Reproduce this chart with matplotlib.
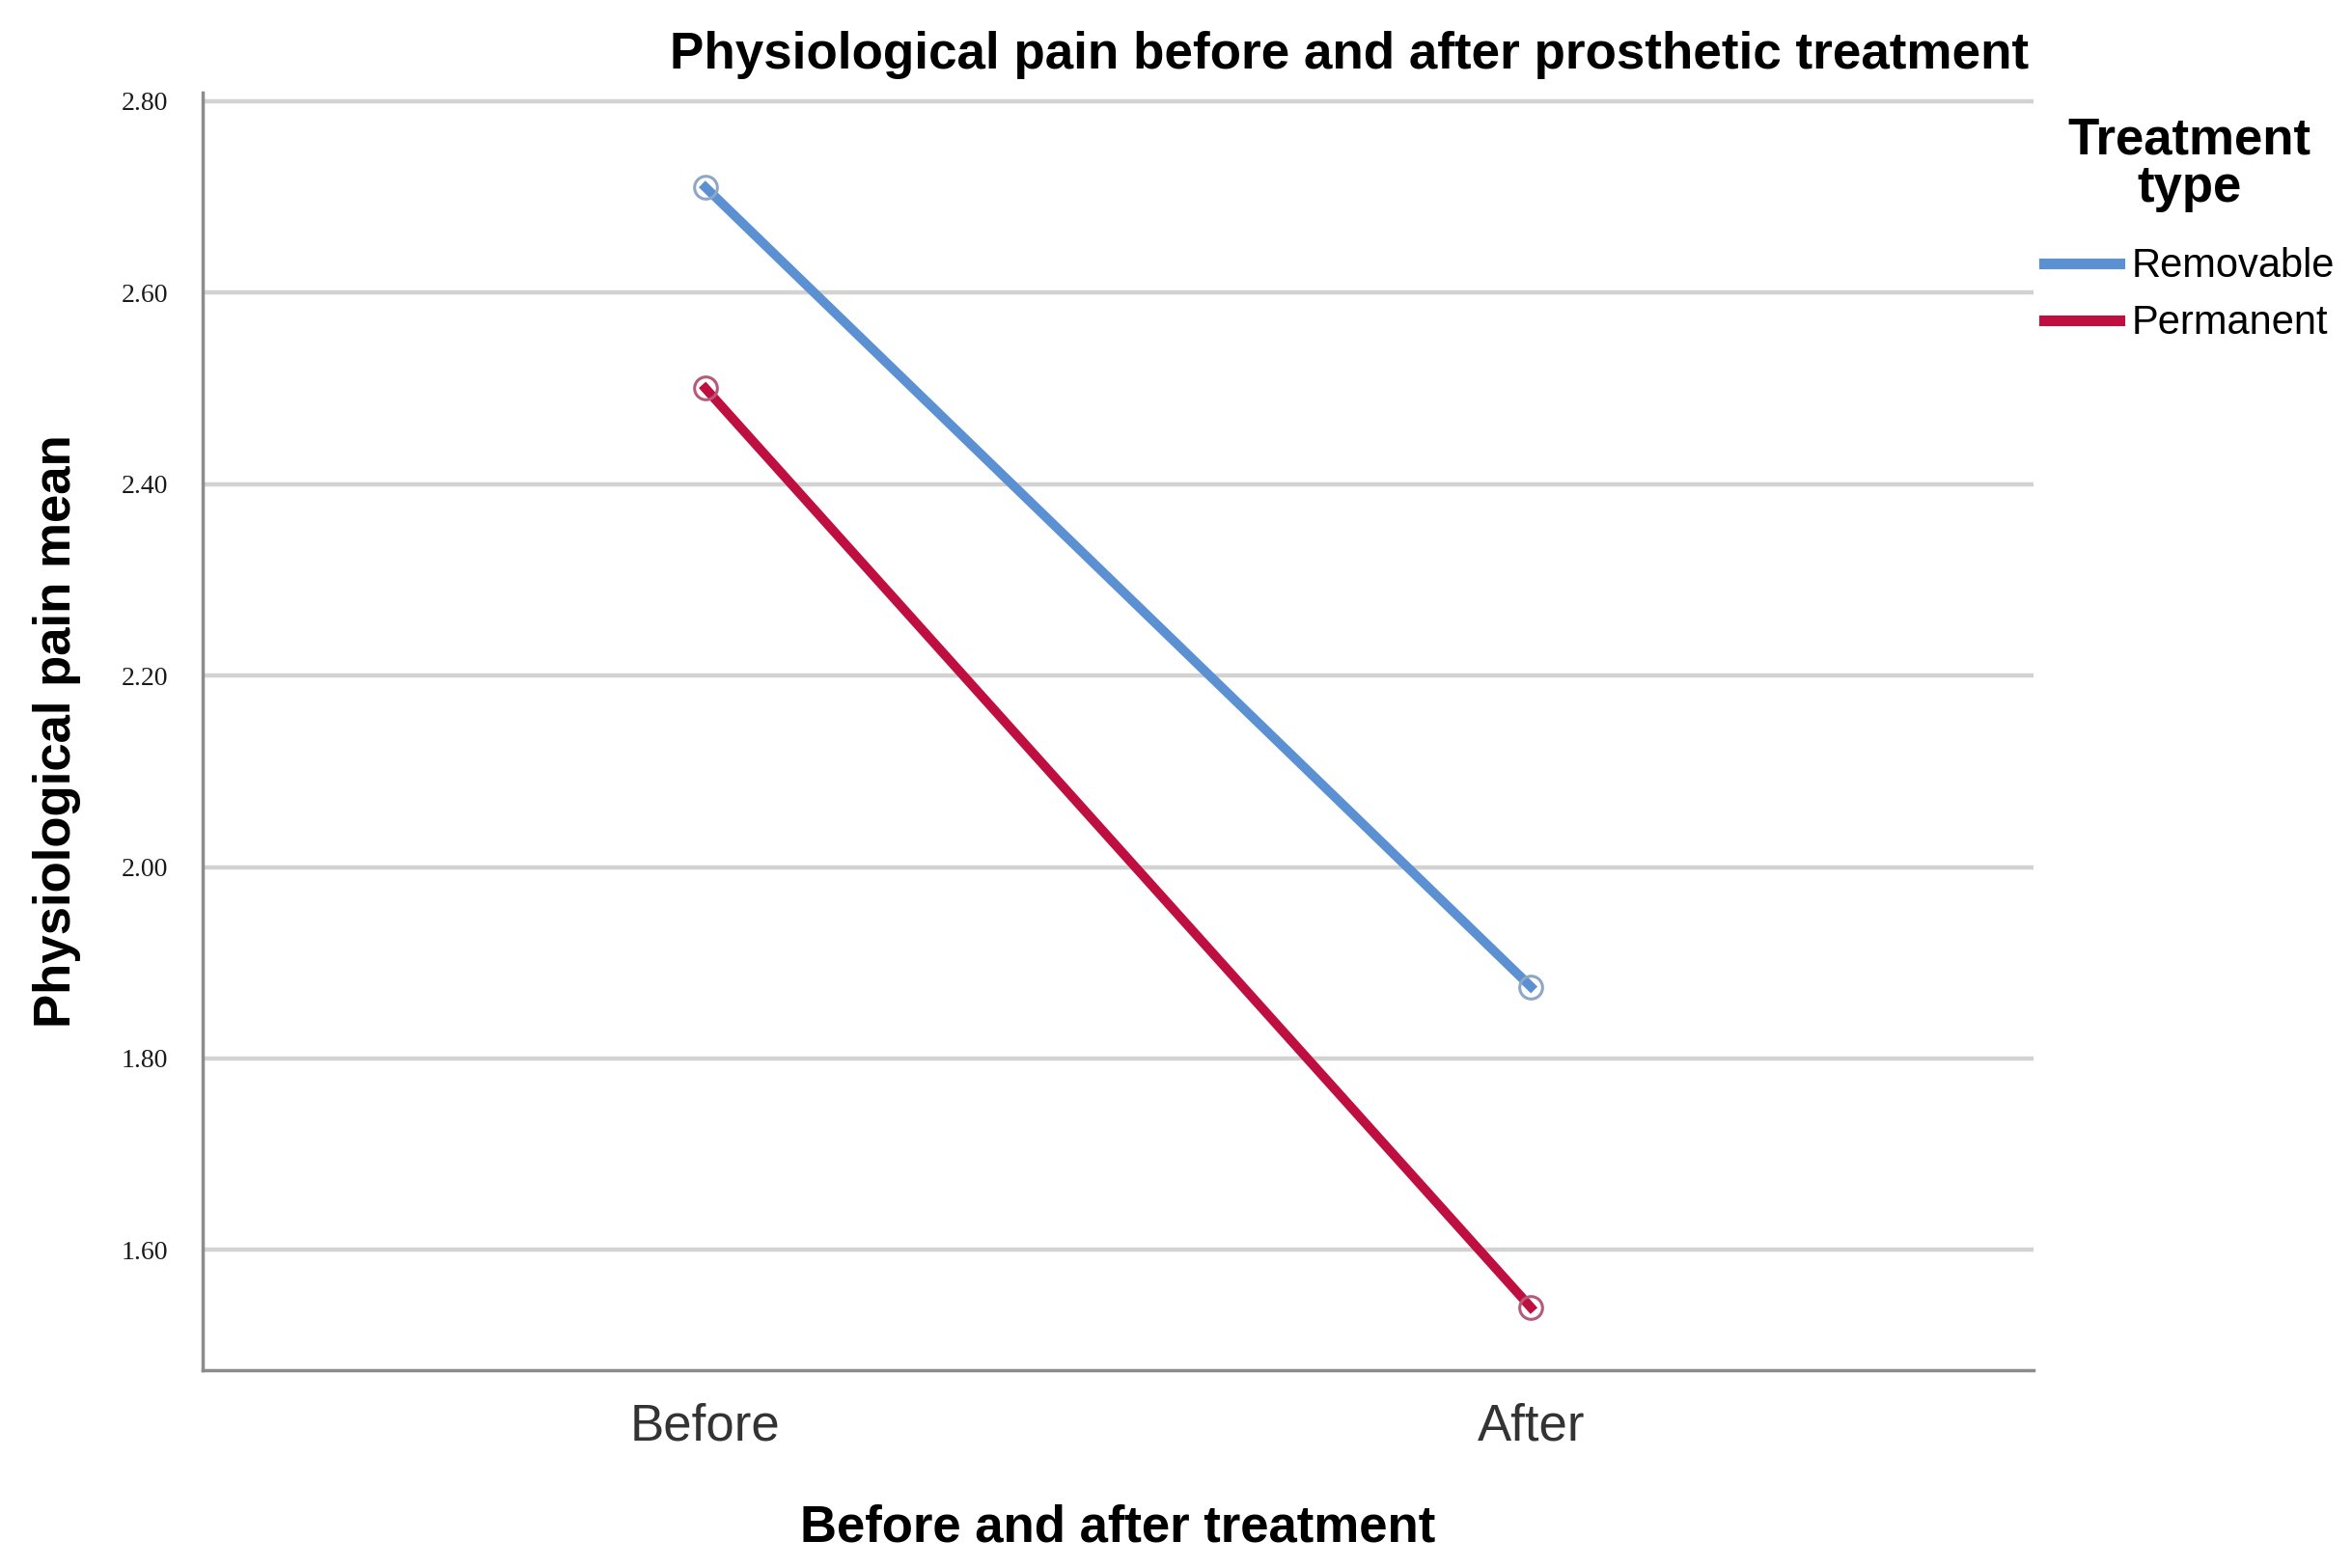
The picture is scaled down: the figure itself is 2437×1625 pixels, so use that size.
import matplotlib
matplotlib.use("Agg")
import matplotlib.pyplot as plt

# data
phases = ["Before", "After"]
removable = [2.71, 1.875]
permanent = [2.50, 1.54]
y_ticks = [1.60, 1.80, 2.00, 2.20, 2.40, 2.60, 2.80]

blue = "#5B90D2"
red = "#BE0F40"

plt.rcParams['font.family'] = ['Liberation Sans', 'DejaVu Sans']

fig = plt.figure(figsize=(24.37, 16.25), dpi=100)
ax = fig.add_axes([0.0862, 0.1262, 0.7784, 0.8148])

x = list(range(len(phases)))

# gridlines behind
for t in y_ticks:
    ax.axhline(t, color='#d2d2d2', linewidth=3.2, zorder=0)

ax.plot(x, removable, color=blue, linewidth=7, marker='o', markersize=17,
        markerfacecolor='none', markeredgecolor='#8fa6c4', markeredgewidth=2.2,
        label='Removable', zorder=3)
ax.plot(x, permanent, color=red, linewidth=7, marker='o', markersize=17,
        markerfacecolor='none', markeredgecolor='#b55a78', markeredgewidth=2.2,
        label='Permanent', zorder=3)

ax.set_xlim(-0.609, 1.609)
ax.set_ylim(1.4745, 2.809)

ax.set_xticks(x)
ax.set_xticklabels(phases, fontsize=38, color='#333333')
ax.set_yticks(y_ticks)
ax.set_yticklabels(["%.2f" % t for t in y_ticks], fontsize=20,
                   family=['Liberation Serif', 'DejaVu Serif'], color='#1a1a1a')
ax.tick_params(axis='both', length=0)
ax.tick_params(axis='x', pad=24)
ax.tick_params(axis='y', pad=26)

for s in ['top', 'right']:
    ax.spines[s].set_visible(False)
for s in ['left', 'bottom']:
    ax.spines[s].set_color('#8c8c8c')
    ax.spines[s].set_linewidth(2.5)

ax.set_xlabel('Before and after treatment', fontsize=38, fontweight='bold', labelpad=40)
ax.set_ylabel('Physiological pain mean', fontsize=38, fontweight='bold', labelpad=30)

fig.text(0.8626, 0.965, 'Physiological pain before and after prosthetic treatment',
         fontsize=38.2, fontweight='bold', ha='right', va='center')

leg = ax.legend(loc='upper left', bbox_to_anchor=(0.869, 0.926),
                bbox_transform=fig.transFigure, frameon=False,
                title='Treatment\ntype', fontsize=30, handlelength=1.87,
                handletextpad=0.3, labelspacing=0.45, borderpad=0,
                borderaxespad=0, alignment='center')
leg.get_title().set_fontsize(38)
leg.get_title().set_fontweight('bold')
leg.get_title().set_linespacing(1.0)
leg.get_title().set_multialignment('center')
leg._legend_box.sep = 26
for line in leg.get_lines():
    line.set_linewidth(8)
    line.set_marker('')

fig.savefig('out.png', dpi=100)
